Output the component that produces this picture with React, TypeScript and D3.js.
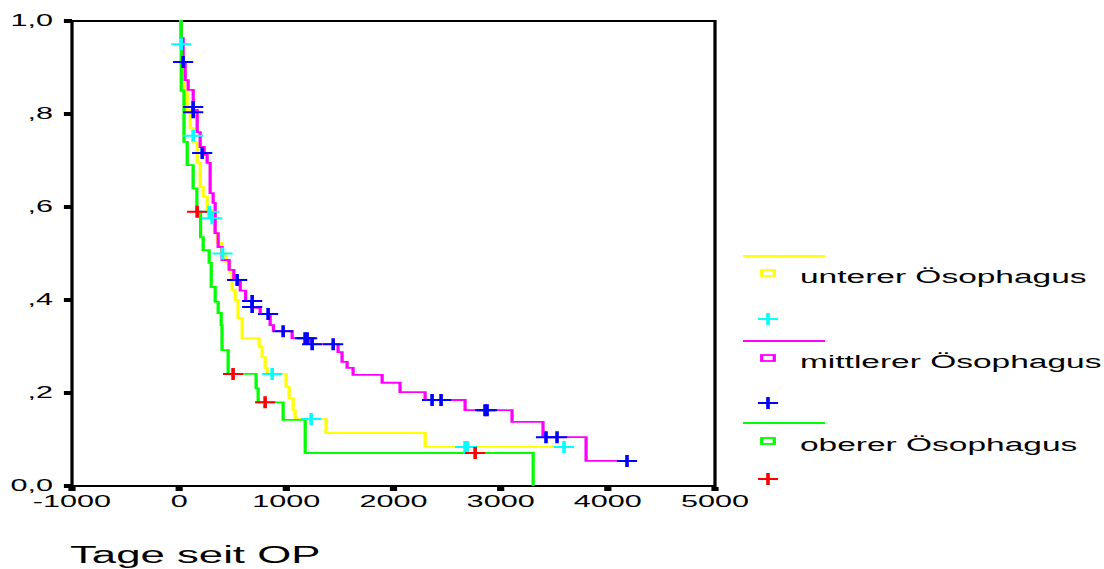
import React from 'react';
import * as d3 from 'd3';

// ---- data (time in days, survival proportion) ----
const unterSteps: [number, number][] = [
  [0, 1], [19, 0.963], [30, 0.926], [37, 0.889], [50, 0.852], [75, 0.809], [103, 0.77], [131, 0.74],
  [168, 0.695], [196, 0.643], [224, 0.622], [261, 0.594], [300, 0.576], [330, 0.545], [354, 0.523],
  [395, 0.5], [438, 0.482], [476, 0.458], [494, 0.422], [522, 0.4], [550, 0.361], [588, 0.318],
  [746, 0.299], [774, 0.277], [802, 0.254], [821, 0.241], [998, 0.213], [1026, 0.189], [1063, 0.163],
  [1082, 0.144], [1371, 0.114], [2295, 0.084], [3591, 0.084],
];
const unterCensored: [number, number][] = [
  [19, 0.95], [131, 0.753], [280, 0.59], [308, 0.576], [405, 0.5], [868, 0.241], [1231, 0.144],
  [2668, 0.084], [2687, 0.084], [3591, 0.084],
];

const mittlerSteps: [number, number][] = [
  [0, 1], [19, 0.963], [37, 0.912], [56, 0.873], [84, 0.852], [131, 0.809], [168, 0.761], [196, 0.729],
  [233, 0.712], [261, 0.695], [289, 0.63], [317, 0.609], [336, 0.544], [364, 0.514], [401, 0.486],
  [466, 0.465], [510, 0.443], [570, 0.42], [620, 0.398], [681, 0.383], [756, 0.37], [849, 0.346],
  [880, 0.333], [1054, 0.318], [1213, 0.305], [1483, 0.288], [1520, 0.267], [1567, 0.254],
  [1623, 0.239], [1894, 0.222], [2061, 0.202], [2295, 0.185], [2668, 0.163], [3106, 0.138],
  [3395, 0.105], [3797, 0.054], [4179, 0.054],
];
const mittlerCensored: [number, number][] = [
  [37, 0.912], [131, 0.815], [131, 0.804], [215, 0.716], [541, 0.443], [681, 0.398], [681, 0.385],
  [830, 0.37], [970, 0.333], [1175, 0.318], [1194, 0.318], [1241, 0.305], [1437, 0.305],
  [2360, 0.185], [2444, 0.185], [2854, 0.163], [2873, 0.163], [3423, 0.105], [3526, 0.105], [4179, 0.054],
];

const oberSteps: [number, number][] = [
  [0, 1], [19, 0.85], [45, 0.74], [75, 0.69], [130, 0.64], [165, 0.59], [200, 0.535], [224, 0.507],
  [280, 0.48], [299, 0.428], [336, 0.396], [364, 0.372], [392, 0.346], [400, 0.292], [457, 0.241],
  [718, 0.21], [737, 0.18], [970, 0.142], [1176, 0.071], [3303, 0],
];
const oberCensored: [number, number][] = [
  [168, 0.59], [503, 0.241], [802, 0.18], [2762, 0.071],
];

const seriesNames = ['unterer Ösophagus', 'mittlerer Ösophagus', 'oberer Ösophagus'];
const xTicks = [-1000, 0, 1000, 2000, 3000, 4000, 5000];
const yTicks = [0, 0.2, 0.4, 0.6, 0.8, 1.0];
const yTickLabels = ['0,0', ',2', ',4', ',6', ',8', '1,0'];
const xTitle = 'Tage seit OP';

// ---- styling ----
const W = 1104;
const H = 569;
const S = 1.8; // horizontal stretch of the original rendering
const FONT = '"Liberation Sans", Arial, sans-serif';
const lineColors = ['#ffff00', '#ff00ff', '#00ff00'];
const censorColors = ['#00ffff', '#0000ff', '#ff0000'];
const legendLineY = [256, 341, 423];
const legendBoxY = [273, 358, 441];
const legendPlusY = [319, 403, 479];

function Plus({ cx, cy, color }: { cx: number; cy: number; color: string }) {
  return (
    <path
      d={`M${cx - 5.6},${cy}h11.2M${cx},${cy - 6}v12`}
      stroke={color}
      strokeWidth={2}
      fill="none"
    />
  );
}

export default function App() {
  const x = d3.scaleLinear().domain([-1000, 5000]).range([72 / S, 715 / S]);
  const y = d3.scaleLinear().domain([0, 1]).range([486, 21]);
  const line = d3
    .line<[number, number]>()
    .x((d) => x(d[0]))
    .y((d) => y(d[1]))
    .curve(d3.curveStepAfter);

  const steps = [unterSteps, mittlerSteps, oberSteps];
  const censored = [unterCensored, mittlerCensored, oberCensored];

  const x0 = x.range()[0];
  const x1 = x.range()[1];
  const legX = 743 / S;
  const legX2 = 825 / S;
  const legMark = 768 / S;
  const legText = 800 / S;

  return (
    <svg
      width={W}
      height={H}
      style={{ position: 'absolute', left: 0, top: 0, display: 'block' }}
      fontFamily={FONT}
    >
      <rect width={W} height={H} fill="#ffffff" />
      <g transform={`scale(${S},1)`}>
        {/* frame */}
        <path
          d={`M${x0},${y(1)}H${x1}V${y(0)}H${x0}Z`}
          fill="none"
          stroke="#000"
          strokeWidth={1.8}
        />
        {/* y ticks */}
        {yTicks.map((t, i) => (
          <g key={`yt${i}`}>
            <line x1={x0 - 4.5} x2={x0} y1={y(t)} y2={y(t)} stroke="#000" strokeWidth={4} />
            <text
              x={53 / S}
              y={y(t) + 5}
              textAnchor="end"
              fontSize={17}
              fill="#000"
            >
              {yTickLabels[i]}
            </text>
          </g>
        ))}
        {/* x ticks */}
        {xTicks.map((t) => (
          <g key={`xt${t}`}>
            <line x1={x(t)} x2={x(t)} y1={y(0) + 1} y2={y(0) + 5} stroke="#000" strokeWidth={4} />
            <text x={x(t)} y={507} textAnchor="middle" fontSize={17} fill="#000">
              {t}
            </text>
          </g>
        ))}
        <text x={70 / S} y={563} fontSize={24.3} fill="#000">
          {xTitle}
        </text>

        {/* curves */}
        {steps.map((s, i) => (
          <path
            key={`c${i}`}
            d={line(s) || ''}
            fill="none"
            stroke={lineColors[i]}
            strokeWidth={1.8}
          />
        ))}
        {censored.map((c, i) =>
          c.map((d, j) => (
            <Plus key={`p${i}-${j}`} cx={x(d[0])} cy={y(d[1])} color={censorColors[i]} />
          ))
        )}

        {/* legend */}
        {seriesNames.map((name, i) => (
          <g key={`lg${i}`}>
            <line
              x1={legX}
              x2={legX2}
              y1={legendLineY[i]}
              y2={legendLineY[i]}
              stroke={lineColors[i]}
              strokeWidth={1.8}
            />
            <rect
              x={legMark - 3.5}
              y={legendBoxY[i] - 3}
              width={7}
              height={6}
              fill="none"
              stroke={lineColors[i]}
              strokeWidth={1.8}
            />
            <text x={legText} y={legendBoxY[i] + 10} fontSize={18.6} fill="#000">
              {name}
            </text>
            <Plus cx={legMark} cy={legendPlusY[i]} color={censorColors[i]} />
          </g>
        ))}
      </g>
    </svg>
  );
}
